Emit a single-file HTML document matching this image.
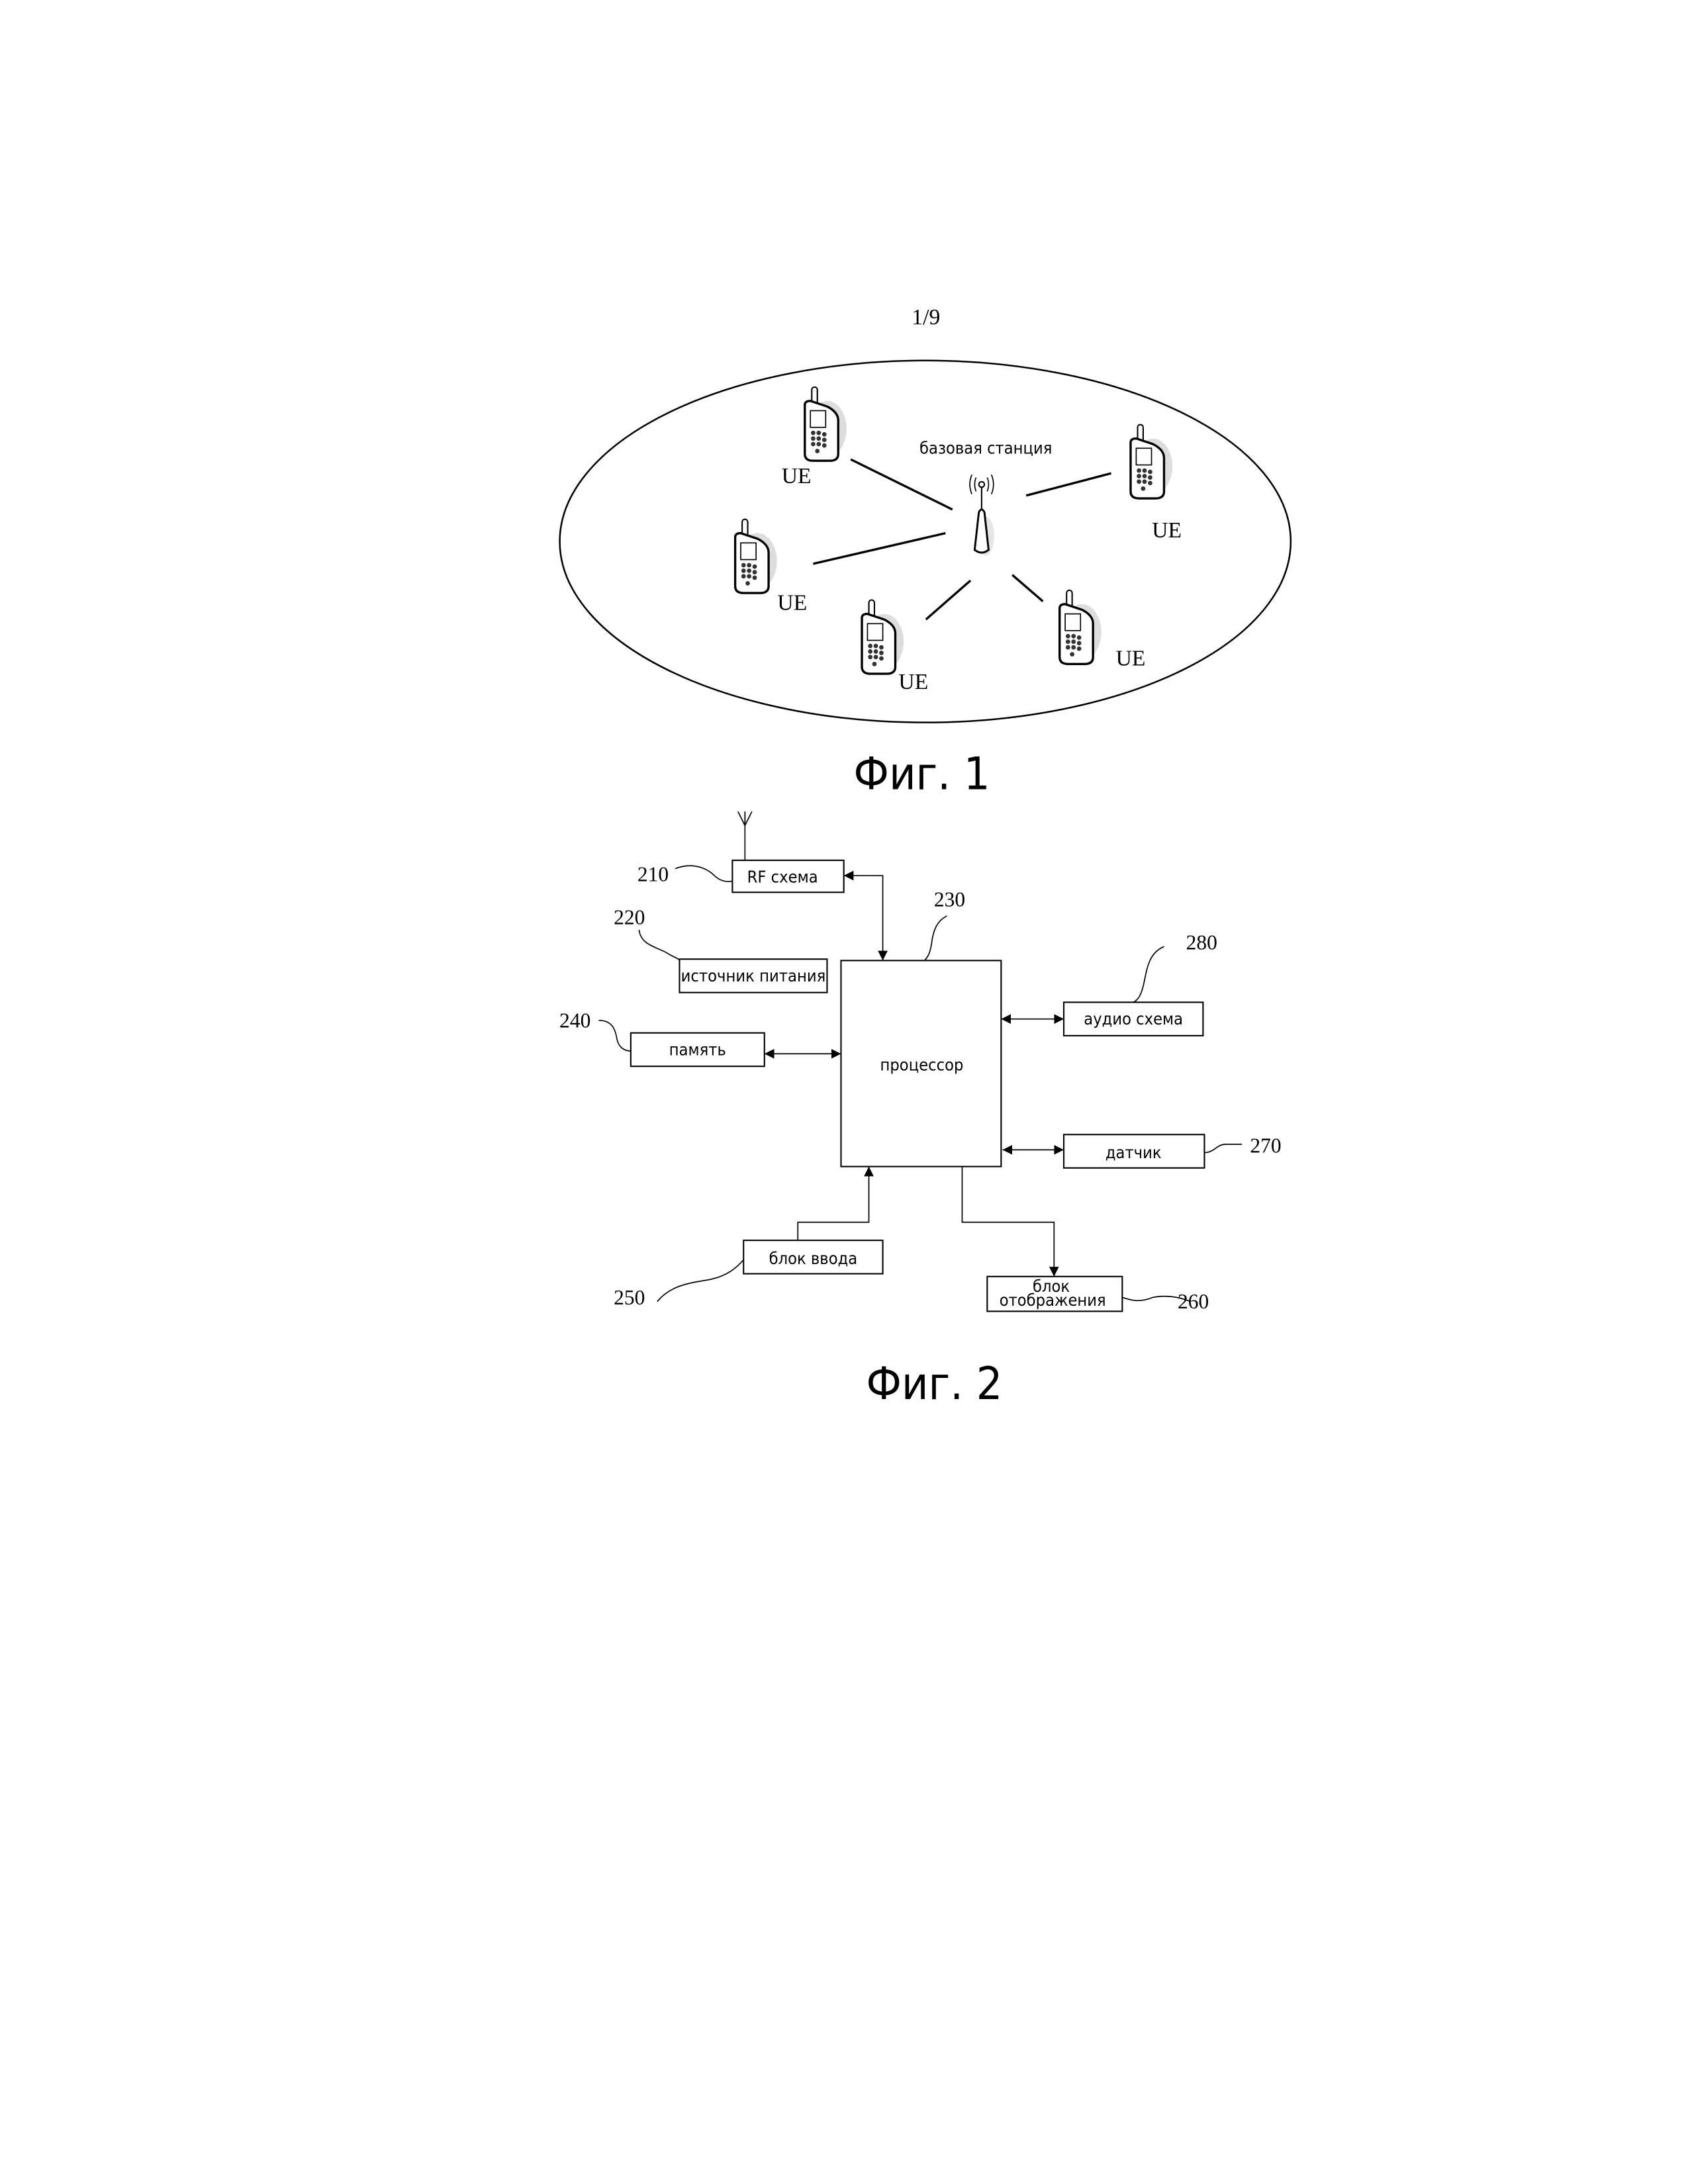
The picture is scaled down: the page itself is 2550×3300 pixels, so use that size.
<!DOCTYPE html>
<html><head><meta charset="utf-8"><style>
html,body{margin:0;padding:0;background:#fff;}
svg{display:block}
.s{font-family:"DejaVu Sans Condensed","DejaVu Sans","Liberation Sans",sans-serif}
.r{font-family:"Liberation Serif",serif}
</style></head><body>
<svg width="2550" height="3300" viewBox="0 0 1212.3 1568.9" preserveAspectRatio="none" xmlns="http://www.w3.org/2000/svg">
<defs>
<marker id="a" viewBox="0 0 10 10" refX="10" refY="5" markerWidth="7" markerHeight="7" markerUnits="userSpaceOnUse" orient="auto-start-reverse"><path d="M0,0 L10,5 L0,10 z" fill="#000"/></marker>
<g id="ph">
<ellipse cx="18" cy="30" rx="14" ry="20" fill="#ddd"/>
<rect x="7" y="0" width="4" height="13" rx="2" fill="#fff" stroke="#000" stroke-width="1"/>
<path d="M2,13 Q2,10 6,10 L18,14 Q26,18 26,24 L26,48 Q26,53 20,53 L8,53 Q2,53 2,48 Z" fill="#fff" stroke="#000" stroke-width="1.6"/>
<rect x="6" y="17" width="11" height="12" fill="#fff" stroke="#000" stroke-width="0.8"/>
<g fill="#333"><circle cx="8" cy="33" r="1.6"/><circle cx="12" cy="33" r="1.6"/><circle cx="16" cy="34" r="1.6"/><circle cx="8" cy="37" r="1.6"/><circle cx="12" cy="37" r="1.6"/><circle cx="16" cy="38" r="1.6"/><circle cx="8" cy="41" r="1.6"/><circle cx="12" cy="41" r="1.6"/><circle cx="16" cy="42" r="1.6"/><circle cx="11" cy="46" r="1.6"/></g>
</g>
</defs>
<g fill="none" stroke="#000">
<ellipse cx="664.5" cy="389" rx="262.5" ry="130" stroke-width="1.2"/>
<g stroke-width="1.6">
<line x1="611" y1="330" x2="684" y2="366"/>
<line x1="737" y1="356" x2="798" y2="340"/>
<line x1="584" y1="405" x2="679" y2="383"/>
<line x1="697" y1="417" x2="665" y2="445"/>
<line x1="727" y1="413" x2="749" y2="432"/>
</g>
</g>
<ellipse cx="708" cy="385" rx="6" ry="14" fill="#e6e6e6"/>
<path d="M700,395 L703,368 Q705,364 707,368 L710,395 Q705,399 700,395 Z" fill="#fff" stroke="#000" stroke-width="1.4"/>
<line x1="705" y1="350" x2="705" y2="366" stroke="#000" stroke-width="1"/>
<circle cx="705" cy="348" r="2" fill="#fff" stroke="#000" stroke-width="1"/>
<path d="M701,343 Q699,348 701,353 M709,343 Q711,348 709,353 M698,341 Q695,348 698,355 M712,341 Q715,348 712,355" fill="none" stroke="#000" stroke-width="0.8"/>
<use href="#ph" x="576" y="278"/>
<use href="#ph" x="810" y="305"/>
<use href="#ph" x="526" y="373"/>
<use href="#ph" x="617" y="431"/>
<use href="#ph" x="759" y="424"/>
<g class="r" font-size="16" text-anchor="middle">
<text x="665" y="233">1/9</text>
<text x="572" y="347">UE</text>
<text x="838" y="386">UE</text>
<text x="569" y="438">UE</text>
<text x="656" y="495">UE</text>
<text x="812" y="478">UE</text>
</g>
<text class="s" x="708" y="326" font-size="12" text-anchor="middle">базовая станция</text>
<text class="s" x="613" y="567" font-size="32" textLength="98" lengthAdjust="spacingAndGlyphs">Фиг. 1</text>

<g fill="#fff" stroke="#000" stroke-width="1">
<rect x="526" y="618" width="80" height="23"/>
<rect x="604" y="690" width="115" height="148"/>
<rect x="488" y="689" width="106" height="24"/>
<rect x="453" y="742" width="96" height="24"/>
<rect x="764" y="720" width="100" height="24"/>
<rect x="764" y="815" width="101" height="24"/>
<rect x="534" y="891" width="100" height="24"/>
<rect x="709" y="917" width="97" height="25"/>
</g>
<g fill="none" stroke="#000" stroke-width="0.8">
<line x1="535" y1="583" x2="535" y2="618"/>
<path d="M530,583 L535,593 L540,583 M535,583 L535,593"/>
<path d="M606,629 L634,629 L634,690" marker-start="url(#a)" marker-end="url(#a)"/>
<line x1="549" y1="757" x2="604" y2="757" marker-start="url(#a)" marker-end="url(#a)"/>
<line x1="719" y1="732" x2="764" y2="732" marker-start="url(#a)" marker-end="url(#a)"/>
<line x1="720" y1="826" x2="764" y2="826" marker-start="url(#a)" marker-end="url(#a)"/>
<path d="M573,891 L573,878 L624,878 L624,838" marker-end="url(#a)"/>
<path d="M691,838 L691,878 L757,878 L757,917" marker-end="url(#a)"/>
<path d="M485,624 C495,620 505,622 512,628 C516,632 520,634 526,633"/>
<path d="M680,658 C672,662 670,670 669,678 C668,685 666,688 664,690"/>
<path d="M459,668 C460,678 470,680 478,684 C484,688 487,688 488,690"/>
<path d="M430,733 C440,733 442,740 443,746 C444,752 448,755 453,755"/>
<path d="M836,680 C826,684 824,694 822,704 C820,714 818,718 814,720"/>
<path d="M865,828 C872,828 874,822 880,822 C885,822 888,822 892,822"/>
<path d="M472,935 C480,925 492,922 505,920 C520,918 528,912 534,905"/>
<path d="M806,932 C812,934 818,936 828,932 C838,930 848,932 855,935"/>
</g>
<g class="r" font-size="15" text-anchor="middle">
<text x="469" y="633">210</text>
<text x="682" y="651">230</text>
<text x="452" y="664">220</text>
<text x="413" y="738">240</text>
<text x="863" y="682">280</text>
<text x="909" y="828">270</text>
<text x="452" y="937">250</text>
<text x="857" y="940">260</text>
</g>
<g class="s" font-size="12" text-anchor="middle">
<text x="562" y="634">RF схема</text>
<text x="541" y="705" textLength="104" lengthAdjust="spacingAndGlyphs">источник питания</text>
<text x="501" y="758">память</text>
<text x="662" y="769">процессор</text>
<text x="814" y="736">аудио схема</text>
<text x="814" y="832">датчик</text>
<text x="584" y="908">блок ввода</text>
<text x="755" y="928">блок</text>
<text x="756" y="938">отображения</text>
</g>
<text class="s" x="622" y="1005" font-size="32" textLength="98" lengthAdjust="spacingAndGlyphs">Фиг. 2</text>
</svg>
</body></html>
